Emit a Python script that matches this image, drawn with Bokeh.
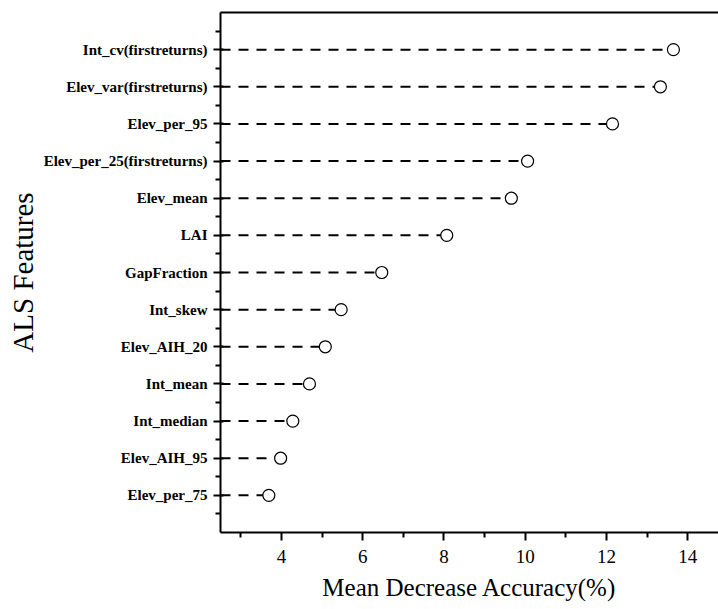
from bokeh.plotting import figure
from bokeh.models import Range1d, FixedTicker, LinearAxis
from bokeh.embed import file_html
from bokeh.resources import INLINE

features = ["Int_cv(firstreturns)", "Elev_var(firstreturns)", "Elev_per_95",
            "Elev_per_25(firstreturns)", "Elev_mean", "LAI", "GapFraction",
            "Int_skew", "Elev_AIH_20", "Int_mean", "Int_median", "Elev_AIH_95",
            "Elev_per_75"]
importance = [13.65, 13.33, 12.15, 10.06, 9.66, 8.07, 6.47, 5.47, 5.08, 4.69, 4.28, 3.98, 3.69]
x_ticks = [4, 6, 8, 10, 12, 14]
x_title = "Mean Decrease Accuracy(%)"
y_title = "ALS Features"

n = len(features)
ypos = [n - i for i in range(n)]
x_start, x_end = 2.5, 14.76

p = figure(width=718, height=609, output_backend="svg", toolbar_location=None,
           x_range=Range1d(x_start, x_end), y_range=Range1d(0, n + 1),
           min_border_left=220, min_border_right=0, min_border_top=12,
           min_border_bottom=77)
p.outline_line_color = None
p.grid.visible = False
p.background_fill_color = "white"
p.border_fill_color = "white"

p.segment(x0=[x_start] * n, y0=ypos, x1=importance, y1=ypos,
          line_color="black", line_width=2, line_dash="10 8")
p.scatter(importance, ypos, size=12, marker="circle", fill_color="white",
          line_color="black", line_width=1.2)

# x axis
xa = p.xaxis[0]
xa.ticker = FixedTicker(ticks=x_ticks, minor_ticks=[3, 5, 7, 9, 11, 13])
xa.axis_line_width = 2
xa.axis_line_color = "black"
xa.major_tick_line_color = "black"
xa.minor_tick_line_color = "black"
xa.major_tick_line_width = 2
xa.minor_tick_line_width = 2
xa.major_tick_out = 8
xa.major_tick_in = 0
xa.minor_tick_out = 5
xa.minor_tick_in = 0
xa.major_label_text_font = "Liberation Serif"
xa.major_label_text_font_size = "19px"
xa.major_label_text_font_style = "normal"
xa.major_label_text_color = "black"
xa.major_label_standoff = 9
xa.axis_label = x_title
xa.axis_label_text_font = "Liberation Serif"
xa.axis_label_text_font_size = "25px"
xa.axis_label_text_font_style = "normal"
xa.axis_label_text_color = "black"
xa.axis_label_standoff = 8

# y axis
ya = p.yaxis[0]
ya.ticker = FixedTicker(ticks=ypos, minor_ticks=[v + 0.5 for v in range(0, n + 1)])
ya.major_label_overrides = {y: f for y, f in zip(ypos, features)}
ya.axis_line_width = 2
ya.axis_line_color = "black"
ya.major_tick_line_color = "black"
ya.minor_tick_line_color = "black"
ya.major_tick_line_width = 2
ya.minor_tick_line_width = 2
ya.major_tick_out = 7
ya.major_tick_in = 3
ya.minor_tick_out = 5
ya.minor_tick_in = 0
ya.major_label_text_font = "Liberation Serif"
ya.major_label_text_font_size = "15px"
ya.major_label_text_font_style = "bold"
ya.major_label_text_color = "black"
ya.major_label_standoff = 6
ya.axis_label = y_title
ya.axis_label_text_font = "Liberation Serif"
ya.axis_label_text_font_size = "29px"
ya.axis_label_text_font_style = "normal"
ya.axis_label_text_color = "black"
ya.axis_label_standoff = 2

# top border line
top = LinearAxis(ticker=FixedTicker(ticks=[]), major_label_text_font_size="0px",
                 axis_line_width=2, axis_line_color="black",
                 major_tick_line_color=None, minor_tick_line_color=None)
p.add_layout(top, "above")

open("out.html", "w").write(file_html(p, INLINE))
